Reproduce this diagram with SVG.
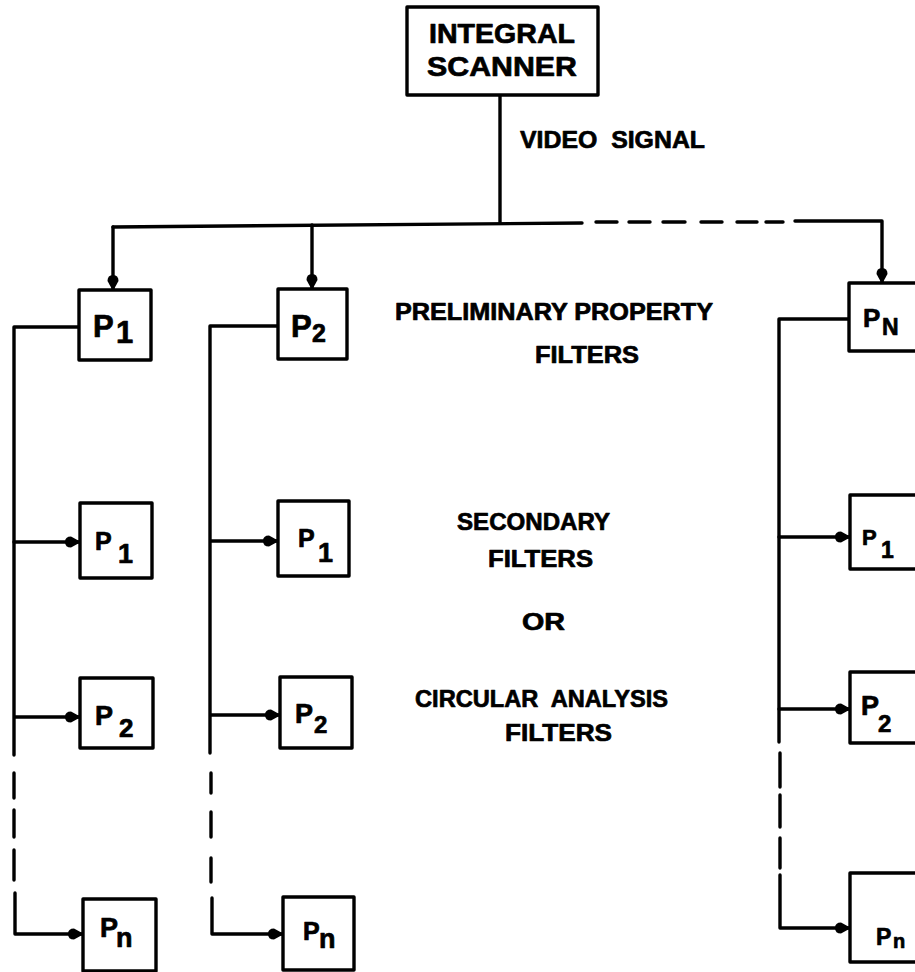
<svg xmlns="http://www.w3.org/2000/svg" width="915" height="972" viewBox="0 0 915 972">
<defs>
<style>
.box{fill:#fff;stroke:#000;stroke-width:3.4;stroke-linejoin:round}
.ln{fill:none;stroke:#000;stroke-width:3.4;stroke-linejoin:round;stroke-linecap:round}
.t{font-family:"Liberation Sans",Arial,sans-serif;font-weight:bold;fill:#000;stroke:#000;stroke-width:0.7;stroke-linejoin:round}
.lab{font-size:24px}
</style>
<marker id="ah" viewBox="0 0 16 14" refX="15" refY="7" markerWidth="16" markerHeight="14" markerUnits="userSpaceOnUse" orient="auto">
<path d="M0,7 Q0,1.5 6,1.5 L16,7 L6,12.5 Q0,12.5 0,7 Z" fill="#000"/>
</marker>
</defs>
<rect width="915" height="972" fill="#fff"/>

<g id="connectors">
<path class="ln" d="M500,95 V223"/>
<path class="ln" d="M113,227 L582,223"/>
<path class="ln" d="M596,222 H617 M629,222 H650 M663,222 H685 M701,222 H722 M737,222 H757 M766,222 H783"/>
<path class="ln" d="M795,221 H882 V283" marker-end="url(#ah)"/>
<path class="ln" d="M113,227 V290" marker-end="url(#ah)"/>
<path class="ln" d="M312,225 V289" marker-end="url(#ah)"/>

<path class="ln" d="M79,327 H14 V755"/>
<path class="ln" d="M14,773 V798 M14,810 V837 M14,850 V880"/>
<path class="ln" d="M15,893 V934 H83" marker-end="url(#ah)"/>
<path class="ln" d="M14,542 H80" marker-end="url(#ah)"/>
<path class="ln" d="M15,717 H80" marker-end="url(#ah)"/>

<path class="ln" d="M278,326 H210 V753"/>
<path class="ln" d="M211,773 V793 M211,812 V837 M211,858 V882"/>
<path class="ln" d="M212,898 V934 H283" marker-end="url(#ah)"/>
<path class="ln" d="M211,541 H278" marker-end="url(#ah)"/>
<path class="ln" d="M211,715 H280" marker-end="url(#ah)"/>

<path class="ln" d="M849,319 H779 V742"/>
<path class="ln" d="M780,753 V787 M780,795 V827 M780,838 V868"/>
<path class="ln" d="M780,875 V928 H850" marker-end="url(#ah)"/>
<path class="ln" d="M779,537 H850" marker-end="url(#ah)"/>
<path class="ln" d="M779,709 H850" marker-end="url(#ah)"/>
</g>

<g id="scanner">
<rect class="box" x="407" y="7" width="191" height="88"/>
<text class="t" x="502" y="43" font-size="27" text-anchor="middle" textLength="146" lengthAdjust="spacingAndGlyphs">INTEGRAL</text>
<text class="t" x="502" y="76" font-size="27" text-anchor="middle" textLength="150" lengthAdjust="spacingAndGlyphs">SCANNER</text>
</g>

<g id="labels">
<text class="t lab" x="520" y="148" xml:space="preserve" textLength="185" lengthAdjust="spacingAndGlyphs">VIDEO  SIGNAL</text>
<text class="t lab" x="395" y="320" textLength="318" lengthAdjust="spacingAndGlyphs">PRELIMINARY PROPERTY</text>
<text class="t lab" x="535" y="363" textLength="104" lengthAdjust="spacingAndGlyphs">FILTERS</text>
<text class="t lab" x="457" y="530" textLength="153" lengthAdjust="spacingAndGlyphs">SECONDARY</text>
<text class="t lab" x="488" y="567" textLength="105" lengthAdjust="spacingAndGlyphs">FILTERS</text>
<text class="t lab" x="522" y="630" textLength="43" lengthAdjust="spacingAndGlyphs">OR</text>
<text class="t lab" x="415" y="707" xml:space="preserve" textLength="253" lengthAdjust="spacingAndGlyphs">CIRCULAR  ANALYSIS</text>
<text class="t lab" x="505" y="741" textLength="107" lengthAdjust="spacingAndGlyphs">FILTERS</text>
</g>

<g id="c1-p1">
<rect class="box" x="79" y="290" width="72" height="70"/>
<text class="t" font-size="31" x="93" y="337">P<tspan x="116" y="343" font-size="31">1</tspan></text>
</g>
<g id="c2-p2">
<rect class="box" x="278" y="289" width="69" height="70"/>
<text class="t" font-size="31" x="291" y="337">P<tspan x="312" y="342" font-size="25">2</tspan></text>
</g>
<g id="c3-pn">
<rect class="box" x="849" y="283" width="73" height="68"/>
<text class="t" font-size="26" x="863" y="327">P<tspan x="882" y="335" font-size="23">N</tspan></text>
</g>

<g id="c1-s1">
<rect class="box" x="80" y="503" width="72" height="75"/>
<text class="t" font-size="25" x="95" y="550">P<tspan x="118" y="563" font-size="27">1</tspan></text>
</g>
<g id="c1-s2">
<rect class="box" x="80" y="678" width="73" height="70"/>
<text class="t" font-size="27" x="95" y="725">P<tspan x="119" y="737" font-size="26">2</tspan></text>
</g>
<g id="c1-sn">
<rect class="box" x="83" y="899" width="73" height="72"/>
<text class="t" font-size="27" x="100" y="937">P<tspan x="116" y="947" font-size="27">n</tspan></text>
</g>

<g id="c2-s1">
<rect class="box" x="278" y="501" width="71" height="75"/>
<text class="t" font-size="25" x="298" y="547">P<tspan x="318" y="562" font-size="27">1</tspan></text>
</g>
<g id="c2-s2">
<rect class="box" x="280" y="677" width="72" height="71"/>
<text class="t" font-size="27" x="295" y="723">P<tspan x="314" y="733" font-size="24">2</tspan></text>
</g>
<g id="c2-sn">
<rect class="box" x="283" y="897" width="71" height="73"/>
<text class="t" font-size="25" x="303" y="940">P<tspan x="319" y="948" font-size="27">n</tspan></text>
</g>

<g id="c3-s1">
<rect class="box" x="850" y="495" width="72" height="74"/>
<text class="t" font-size="22" x="862" y="545">P<tspan x="881" y="558" font-size="23">1</tspan></text>
</g>
<g id="c3-s2">
<rect class="box" x="850" y="672" width="72" height="71"/>
<text class="t" font-size="27" x="861" y="715">P<tspan x="878" y="732" font-size="24">2</tspan></text>
</g>
<g id="c3-sn">
<rect class="box" x="850" y="873" width="72" height="89"/>
<text class="t" font-size="23" x="876" y="945">P<tspan x="893" y="948" font-size="20">n</tspan></text>
</g>
</svg>
